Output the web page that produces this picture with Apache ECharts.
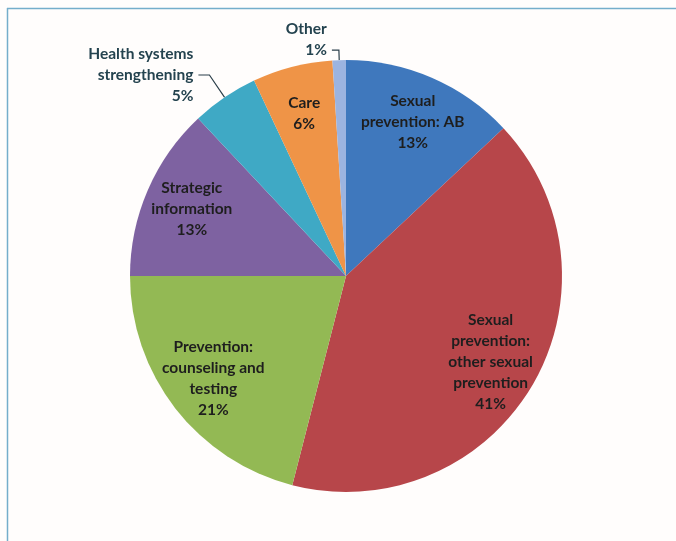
<!DOCTYPE html>
<html>
<head>
<meta charset="utf-8">
<script src="https://cdn.jsdelivr.net/npm/echarts@6/dist/echarts.min.js"></script>
<style>
html,body{margin:0;padding:0;background:#fffdfc;}
#chart{width:676px;height:541px;}
</style>
</head>
<body>
<div id="chart"></div>
<script>
var categories = [
  "Sexual\nprevention: AB",
  "Sexual\nprevention:\nother sexual\nprevention",
  "Prevention:\ncounseling and\ntesting",
  "Strategic\ninformation",
  "Health systems\nstrengthening",
  "Care",
  "Other"
];
var values = [13, 41, 21, 13, 5, 6, 1];
var colors = ["#3f78bd", "#b7464a", "#93b954", "#7e62a1", "#3fa9c5", "#ef9447", "#9cb4e0"];
var outsideLabelled = [false, false, false, false, true, false, true];
var leaderLengths = [0, 0, 0, 0, 27, 0, 10];
var leaderLengths2 = [0, 0, 0, 0, 11, 0, 7];

var chart = echarts.init(document.getElementById('chart'), null, {renderer: 'canvas'});

var fontFamily = 'Lato, "Open Sans", sans-serif';

var mainData = categories.map(function (c, i) {
  var d = {name: c, value: values[i], itemStyle: {color: colors[i]}};
  if (outsideLabelled[i]) {
    d.label = {show: true};
    d.labelLine = {show: true, length: leaderLengths[i], length2: leaderLengths2[i]};
  } else {
    d.label = {show: false};
    d.labelLine = {show: false};
  }
  return d;
});

var overlayData = categories.map(function (c, i) {
  return {
    name: c, value: values[i],
    itemStyle: {color: 'rgba(0,0,0,0)'},
    label: {show: !outsideLabelled[i]}
  };
});

chart.setOption({
  backgroundColor: '#fffdfc',
  animation: false,
  graphic: [
    {type: 'line', shape: {x1: 7, y1: 8.5, x2: 676, y2: 8.5}, style: {stroke: '#74aecb', lineWidth: 1.5}},
    {type: 'line', shape: {x1: 7.5, y1: 8, x2: 7.5, y2: 541}, style: {stroke: '#74aecb', lineWidth: 1.5}}
  ],
  series: [
    {
      type: 'pie',
      center: [346, 276],
      radius: [0, 216],
      startAngle: 90,
      clockwise: true,
      silent: true,
      avoidLabelOverlap: false,
      data: mainData,
      label: {
        position: 'outside',
        formatter: function (p) { return p.name.indexOf('\n') >= 0 ? p.name + '\n' + p.value + '%' : p.name + '\n' + p.value + '%\n '; },
        color: '#24434f',
        fontFamily: fontFamily,
        fontWeight: 'bold',
        fontSize: 15.5,
        lineHeight: 21,
        align: 'center'
      },
      labelLine: {
        smooth: false,
        lineStyle: {color: '#2b3f4a', width: 1.2}
      },
      itemStyle: {borderWidth: 0}
    },
    {
      type: 'pie',
      center: [346, 276],
      radius: [0, 330],
      startAngle: 90,
      clockwise: true,
      silent: true,
      data: overlayData,
      labelLine: {show: false},
      label: {
        position: 'inside',
        formatter: function (p) { return p.name + '\n' + p.value + '%'; },
        color: '#1e1e1e',
        fontFamily: fontFamily,
        fontWeight: 'bold',
        fontSize: 15.5,
        lineHeight: 21,
        align: 'center'
      }
    }
  ]
});
</script>
</body>
</html>
